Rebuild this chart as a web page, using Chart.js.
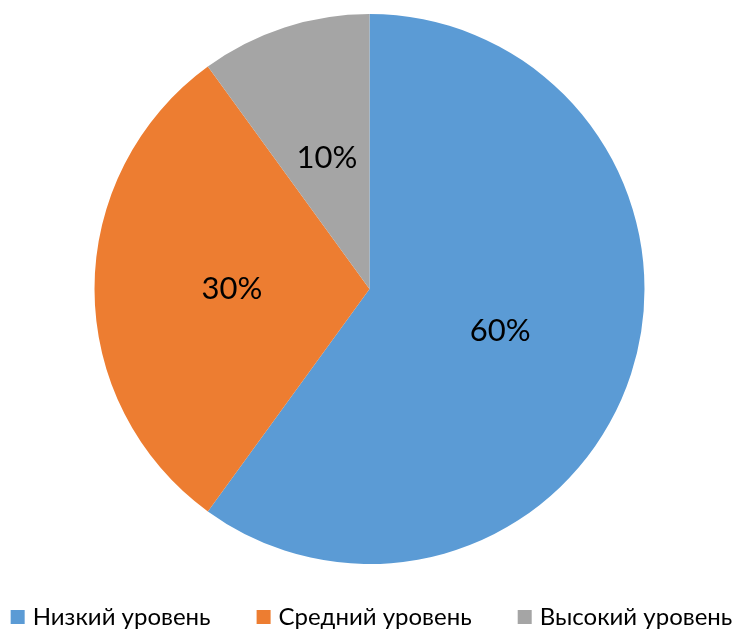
<!DOCTYPE html>
<html>
<head>
<meta charset="utf-8">
<script src="https://cdn.jsdelivr.net/npm/chart.js@4.4.0/dist/chart.umd.min.js"></script>
<style>
  html, body { margin: 0; padding: 0; background: #fff; }
  #wrap { width: 739px; height: 629px; }
</style>
</head>
<body>
<div id="wrap"><canvas id="chart" width="739" height="629"></canvas></div>
<script>
// chart data
const categories = ['Низкий уровень', 'Средний уровень', 'Высокий уровень'];
const values = [60, 30, 10];
const colors = ['#5B9BD5', '#ED7D31', '#A5A5A5'];

const FONT = 'Lato, "Open Sans", sans-serif';

// percent labels at the middle of each slice
const sliceLabels = {
  id: 'sliceLabels',
  afterDatasetsDraw(chart) {
    const { ctx } = chart;
    const meta = chart.getDatasetMeta(0);
    const total = values.reduce((a, b) => a + b, 0);
    ctx.save();
    ctx.font = `31px ${FONT}`;
    ctx.fillStyle = '#000';
    ctx.textAlign = 'center';
    ctx.textBaseline = 'middle';
    meta.data.forEach((arc, i) => {
      const p = arc.tooltipPosition();
      ctx.fillText(`${Math.round(values[i] / total * 100)}%`, p.x, p.y);
    });
    ctx.restore();
  }
};

// one-row legend under the pie (the built-in one wraps at this width)
const rowLegend = {
  id: 'rowLegend',
  afterDraw(chart) {
    const { ctx, width } = chart;
    const box = 14, gapText = 8, gapItem = 46, y = 617;
    ctx.save();
    ctx.font = `24px ${FONT}`;
    ctx.textBaseline = 'middle';
    const widths = categories.map(c => ctx.measureText(c).width);
    const total = widths.reduce((a, w) => a + w + box + gapText, 0) + gapItem * (categories.length - 1);
    let x = (width - total) / 2 + 2;
    categories.forEach((c, i) => {
      ctx.fillStyle = colors[i];
      ctx.fillRect(x, y - box / 2, box, box);
      ctx.fillStyle = '#000';
      ctx.fillText(c, x + box + gapText, y);
      x += box + gapText + widths[i] + gapItem;
    });
    ctx.restore();
  }
};

new Chart(document.getElementById('chart'), {
  type: 'pie',
  data: {
    labels: categories,
    datasets: [{ data: values, backgroundColor: colors, borderWidth: 0 }]
  },
  options: {
    responsive: false,
    animation: false,
    layout: { padding: { top: 14, bottom: 65 } },
    plugins: {
      tooltip: { enabled: false },
      legend: { display: false }
    }
  },
  plugins: [sliceLabels, rowLegend]
});
</script>
</body>
</html>
